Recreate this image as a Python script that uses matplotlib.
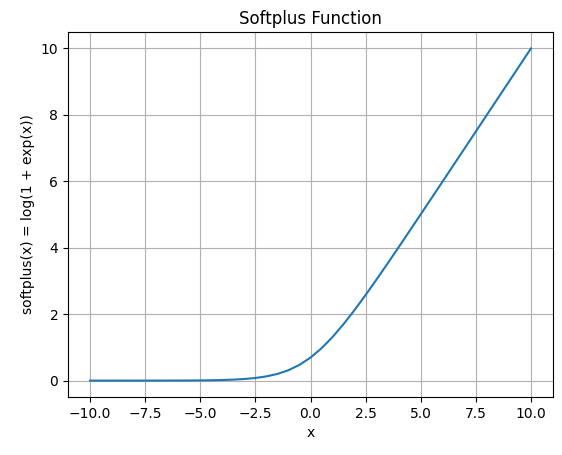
import matplotlib
matplotlib.use("Agg")
import matplotlib.pyplot as plt

x_vals = [-10, -9.5, -9, -8.5, -8, -7.5, -7, -6.5, -6, -5.5, -5, -4.5, -4, -3.5, -3,
          -2.5, -2, -1.5, -1, -0.5, 0, 0.5, 1, 1.5, 2, 2.5, 3, 3.5, 4, 4.5, 5, 5.5,
          6, 6.5, 7, 7.5, 8, 8.5, 9, 9.5, 10]
y_vals = [0.0000454, 0.0000749, 0.000123, 0.000203, 0.000335, 0.000553, 0.000911,
          0.001502, 0.002476, 0.004078, 0.006715, 0.01104, 0.01815, 0.02975, 0.04859,
          0.07889, 0.1269, 0.2014, 0.3133, 0.4741, 0.6931, 0.9741, 1.3133, 1.7014,
          2.1269, 2.5789, 3.0486, 3.5298, 4.0181, 4.5110, 5.0067, 5.5041, 6.0025,
          6.5015, 7.0009, 7.5006, 8.0003, 8.5002, 9.0001, 9.5001, 10.0]

fig = plt.figure(figsize=(5.62, 4.55), dpi=100)
ax = fig.add_axes([0.121, 0.127, 0.863, 0.803])
ax.plot(x_vals, y_vals)
ax.set_title("Softplus Function")
ax.set_xlabel("x")
ax.set_ylabel("softplus(x) = log(1 + exp(x))")
ax.grid(True)
fig.savefig("out.png", dpi=100)
